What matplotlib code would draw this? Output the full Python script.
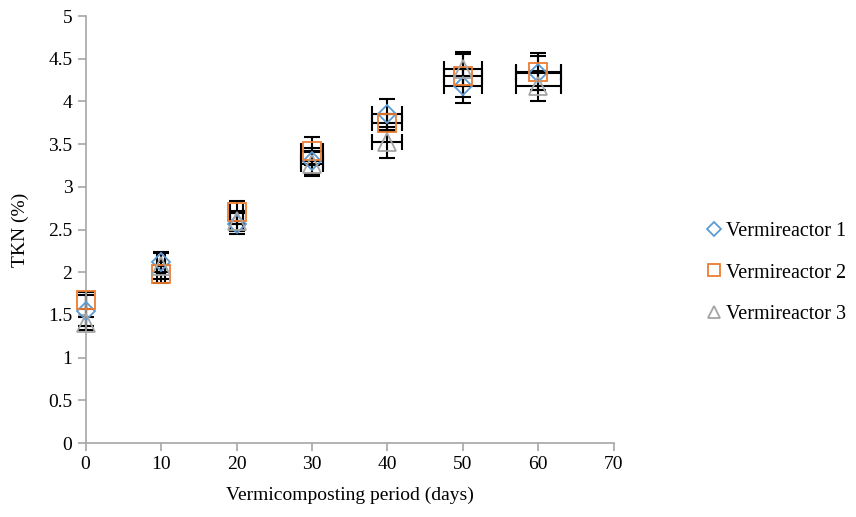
import matplotlib
matplotlib.use("Agg")
import matplotlib.pyplot as plt

plt.rcParams['font.family'] = ['Liberation Serif', 'DejaVu Serif']

# Data
days = [0, 10, 20, 30, 40, 50, 60]
v1 = [1.55, 2.12, 2.57, 3.30, 3.85, 4.18, 4.33]
v2 = [1.67, 1.98, 2.70, 3.42, 3.75, 4.30, 4.35]
v3 = [1.40, 2.07, 2.60, 3.27, 3.52, 4.38, 4.18]
v1_yerr = [0.18, 0.12, 0.12, 0.15, 0.18, 0.20, 0.20]
v2_yerr = [0.10, 0.10, 0.14, 0.16, 0.10, 0.25, 0.22]
v3_yerr = [0.08, 0.15, 0.12, 0.14, 0.18, 0.20, 0.18]
xerr = [0.0, 0.5, 0.8, 1.5, 2.0, 2.5, 3.0]

labels = ['Vermireactor 1', 'Vermireactor 2', 'Vermireactor 3']
colors = ['#5B9BD5', '#ED7D31', '#A5A5A5']
markers = ['D', 's', '^']
sizes = [9, 13, 13]

fig = plt.figure(figsize=(8.56, 5.17), dpi=100)
ax = fig.add_axes([0.1, 0.143, 0.617, 0.826])

for ys, yerr, lab, c, m, s in zip([v1, v2, v3], [v1_yerr, v2_yerr, v3_yerr],
                                  labels, colors, markers, sizes):
    eb = ax.errorbar(days, ys, yerr=yerr, xerr=xerr, fmt='none', ecolor='black',
                     elinewidth=1.5, capsize=5.5, capthick=1.5, zorder=2)
    for art in eb.get_children():
        art.set_clip_on(False)
    ax.plot(days, ys, linestyle='none', marker=m, markersize=s,
            markerfacecolor='none', markeredgecolor=c, markeredgewidth=1.3,
            label=lab, zorder=3, clip_on=False)

ax.set_xlim(0, 70)
ax.set_ylim(0, 5)
ax.set_xticks(range(0, 71, 10))
ax.set_yticks([0, 0.5, 1, 1.5, 2, 2.5, 3, 3.5, 4, 4.5, 5])
ax.set_yticklabels(['0', '0.5', '1', '1.5', '2', '2.5', '3', '3.5', '4', '4.5', '5'])
ax.spines['top'].set_visible(False)
ax.spines['right'].set_visible(False)
for sp in ['left', 'bottom']:
    ax.spines[sp].set_color('#A6A6A6')
    ax.spines[sp].set_linewidth(1.2)
ax.tick_params(axis='both', colors='#A6A6A6', labelcolor='black',
               labelsize=14, length=6, width=1.2, direction='out')
ax.set_xlabel('Vermicomposting period (days)', fontsize=14, labelpad=10)
ax.set_ylabel('TKN (%)', fontsize=14, labelpad=14)

handles = []
for lab, c, m in zip(labels, colors, markers):
    h, = ax.plot([], [], linestyle='none', marker=m, markersize=9 if m != 'D' else 7,
                 markerfacecolor='none', markeredgecolor=c, markeredgewidth=1.3, label=lab)
    handles.append(h)
fig.legend(handles=handles, labels=labels, loc='center left',
           bbox_to_anchor=(0.806, 0.472), frameon=False, fontsize=14.5,
           handlelength=0.6, handletextpad=0.3, labelspacing=1.1)

fig.savefig('out.png', dpi=100)
